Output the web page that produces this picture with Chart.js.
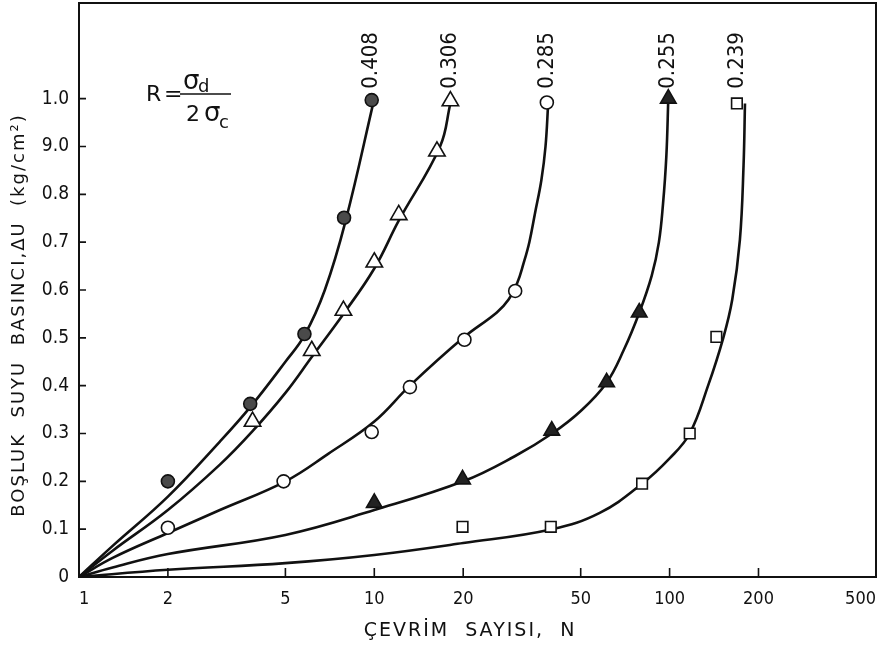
<!DOCTYPE html>
<html>
<head>
<meta charset="utf-8">
<title>Boşluk suyu basıncı - çevrim sayısı</title>
<script src="https://cdn.jsdelivr.net/npm/chart.js@4.4.1/dist/chart.umd.min.js"></script>
<style>
  html, body { margin: 0; padding: 0; background: #fff; }
  #wrap { width: 882px; height: 653px; }
</style>
</head>
<body>
<div id="wrap"><canvas id="chart" width="882" height="653"></canvas></div>
<script>
// ─── Axis ticks ──────────────────────────────────────────────────────────────
const xTicks = [1, 2, 5, 10, 20, 50, 100, 200, 500];
const yTicks = [0, 0.1, 0.2, 0.3, 0.4, 0.5, 0.6, 0.7, 0.8, 0.9, 1.0];
const yTickLabels = ['0', '0.1', '0.2', '0.3', '0.4', '0.5', '0.6', '0.7', '0.8', '9.0', '1.0'];
const seriesNames = ['0.408', '0.306', '0.285', '0.255', '0.239'];

// ─── Measured points (N, ΔU) ─────────────────────────────────────────────────
const m408N = [2, 3.8, 5.8, 7.9, 9.8];
const m408U = [0.2, 0.362, 0.508, 0.751, 0.997];
const m306N = [3.87, 6.14, 7.86, 10, 12.1, 16.3, 18.1];
const m306U = [0.325, 0.473, 0.557, 0.658, 0.757, 0.89, 0.995];
const m285N = [2, 4.93, 9.8, 13.2, 20.2, 30, 38.4];
const m285U = [0.103, 0.2, 0.303, 0.397, 0.496, 0.598, 0.992];
const m255N = [10, 19.9, 39.9, 61.2, 78.9, 99];
const m255U = [0.155, 0.204, 0.306, 0.407, 0.553, 1.0];
const m239N = [19.9, 39.6, 80.7, 117, 144, 169];
const m239U = [0.105, 0.105, 0.195, 0.3, 0.502, 0.99];

// ─── Fitted curves ───────────────────────────────────────────────────────────
const c408N = [1, 1.3, 2, 3, 3.8, 5, 5.8, 6.8, 8, 10];
const c408U = [0, 0.065, 0.168, 0.283, 0.355, 0.45, 0.505, 0.6, 0.745, 1.0];
const c306N = [1, 1.3, 2, 3, 3.87, 5, 6.14, 7.86, 10, 12.1, 16.7, 18.1];
const c306U = [0, 0.055, 0.14, 0.235, 0.305, 0.385, 0.46, 0.55, 0.645, 0.745, 0.9, 0.99];
const c285N = [1, 1.3, 2, 3, 5, 7, 10, 13.2, 20, 26, 28.5, 30.5, 32, 33.5, 35, 36.8, 38, 38.8];
const c285U = [0, 0.04, 0.092, 0.14, 0.2, 0.258, 0.325, 0.4, 0.5, 0.553, 0.58, 0.615, 0.655, 0.7, 0.76, 0.83, 0.9, 0.99];
const c255N = [1, 1.3, 2, 5, 10, 20, 30, 40, 50, 61, 70, 79, 87, 92, 95, 97.5, 99];
const c255U = [0, 0.02, 0.048, 0.088, 0.14, 0.2, 0.253, 0.3, 0.347, 0.405, 0.475, 0.553, 0.63, 0.7, 0.78, 0.88, 1.0];
const c239N = [1, 2, 5, 10, 20, 40, 58, 80.7, 100, 117, 135, 152, 163, 173, 178, 180];
const c239U = [0, 0.015, 0.029, 0.046, 0.071, 0.1, 0.134, 0.195, 0.248, 0.3, 0.4, 0.5, 0.58, 0.705, 0.86, 0.99];

const INK = '#111';
const CONDENSED = "'DejaVu Sans Condensed', 'Liberation Sans Narrow', 'DejaVu Sans', sans-serif";
const SANS = "'DejaVu Sans', sans-serif";

const pairs = (ns, us) => ns.map((n, i) => ({ x: n, y: us[i] }));

function curve(ns, us) {
  return {
    data: pairs(ns, us),
    borderColor: INK,
    borderWidth: 2.6,
    pointRadius: 0,
    tension: 0.4,
    fill: false,
    order: 1,
  };
}

function marks(ns, us, style, radius, bg) {
  return {
    data: pairs(ns, us),
    showLine: false,
    pointStyle: style,
    pointRadius: radius,
    pointBackgroundColor: bg,
    pointBorderColor: INK,
    pointBorderWidth: 1.6,
    order: 0,
  };
}

// ─── Extras: frame, inner ticks, labels, formula, titles ─────────────────────
const paperExtras = {
  id: 'paperExtras',
  afterDraw(chart) {
    const { ctx, chartArea: a, scales: { x, y } } = chart;
    ctx.save();
    ctx.strokeStyle = INK;
    ctx.fillStyle = INK;

    // top and right frame lines
    ctx.lineWidth = 2;
    ctx.beginPath();
    ctx.moveTo(a.left, a.top);
    ctx.lineTo(a.right, a.top);
    ctx.lineTo(a.right, a.bottom);
    ctx.stroke();

    // tick marks pointing into the plot
    ctx.lineWidth = 1.6;
    ctx.beginPath();
    xTicks.slice(1, -1).forEach(v => {
      const px = x.getPixelForValue(v);
      ctx.moveTo(px, a.bottom);
      ctx.lineTo(px, a.bottom - 9);
    });
    yTicks.slice(1).forEach(v => {
      const py = y.getPixelForValue(v);
      ctx.moveTo(a.left, py);
      ctx.lineTo(a.left + 7, py);
    });
    ctx.stroke();

    // R values above each curve
    const tops = [m408N, m306N, m285N, m255N, m239N].map(arr => arr[arr.length - 1]);
    ctx.font = '22px ' + CONDENSED;
    ctx.textAlign = 'center';
    ctx.textBaseline = 'middle';
    tops.forEach((n, i) => {
      ctx.save();
      ctx.translate(x.getPixelForValue(n), y.getPixelForValue(1.08));
      ctx.rotate(-Math.PI / 2);
      ctx.fillText(seriesNames[i], 0, 0);
      ctx.restore();
    });

    // R = σd / 2σc
    ctx.textAlign = 'left';
    ctx.textBaseline = 'alphabetic';
    ctx.font = '22px ' + SANS;
    ctx.fillText('R', 146, 101);
    ctx.fillText('=', 164, 101);
    ctx.lineWidth = 1.5;
    ctx.beginPath();
    ctx.moveTo(180, 94);
    ctx.lineTo(231, 94);
    ctx.stroke();
    ctx.font = '26px ' + SANS;
    ctx.fillText('σ', 183, 89);
    ctx.fillText('σ', 204, 121);
    ctx.font = '22px ' + SANS;
    ctx.fillText('2', 186, 121);
    ctx.font = '18px ' + SANS;
    ctx.fillText('d', 198, 92);
    ctx.fillText('c', 219, 128);

    // axis titles
    ctx.letterSpacing = '2px';
    ctx.textAlign = 'center';
    ctx.textBaseline = 'middle';
    ctx.font = '19px ' + SANS;
    ctx.fillText('ÇEVRİM  SAYISI,  N', 470, 631);
    ctx.font = '18px ' + SANS;
    ctx.translate(19, 315);
    ctx.rotate(-Math.PI / 2);
    ctx.fillText('BOŞLUK  SUYU  BASINCI,ΔU  (kg/cm²)', 0, 0);
    ctx.restore();
  }
};

// ─── Chart ───────────────────────────────────────────────────────────────────
new Chart(document.getElementById('chart'), {
  type: 'line',
  data: {
    datasets: [
      curve(c408N, c408U),
      curve(c306N, c306U),
      curve(c285N, c285U),
      curve(c255N, c255U),
      curve(c239N, c239U),
      marks(m408N, m408U, 'circle', 6.5, '#4a4a4a'),
      marks(m306N, m306U, 'triangle', 9.5, '#fff'),
      marks(m285N, m285U, 'circle', 6.5, '#fff'),
      marks(m255N, m255U, 'triangle', 9, '#222'),
      marks(m239N, m239U, 'rect', 7.5, '#fff'),
    ]
  },
  options: {
    responsive: false,
    animation: false,
    devicePixelRatio: 1,
    layout: { autoPadding: false, padding: { top: 3, right: 6, left: 0, bottom: 0 } },
    plugins: { legend: { display: false }, tooltip: { enabled: false } },
    scales: {
      x: {
        type: 'logarithmic',
        min: 1,
        max: 500,
        afterBuildTicks: s => { s.ticks = xTicks.map(v => ({ value: v })); },
        afterFit: s => { s.height = 76; s.paddingLeft = 0; s.paddingRight = 0; },
        ticks: {
          align: 'inner',
          autoSkip: false,
          maxRotation: 0,
          padding: 12,
          color: INK,
          font: { family: CONDENSED, size: 18 },
          callback: v => String(v),
        },
        grid: { display: false, drawTicks: false },
        border: { display: true, color: INK, width: 2 },
      },
      y: {
        type: 'linear',
        min: 0,
        max: 1.2,
        afterBuildTicks: s => { s.ticks = yTicks.map(v => ({ value: v })); },
        afterFit: s => { s.width = 79; s.paddingTop = 0; s.paddingBottom = 0; },
        ticks: {
          padding: 10,
          color: INK,
          font: { family: CONDENSED, size: 19 },
          callback: (v, i) => yTickLabels[i],
        },
        grid: { display: false, drawTicks: false },
        border: { display: true, color: INK, width: 2 },
      }
    }
  },
  plugins: [paperExtras]
});
</script>
</body>
</html>
